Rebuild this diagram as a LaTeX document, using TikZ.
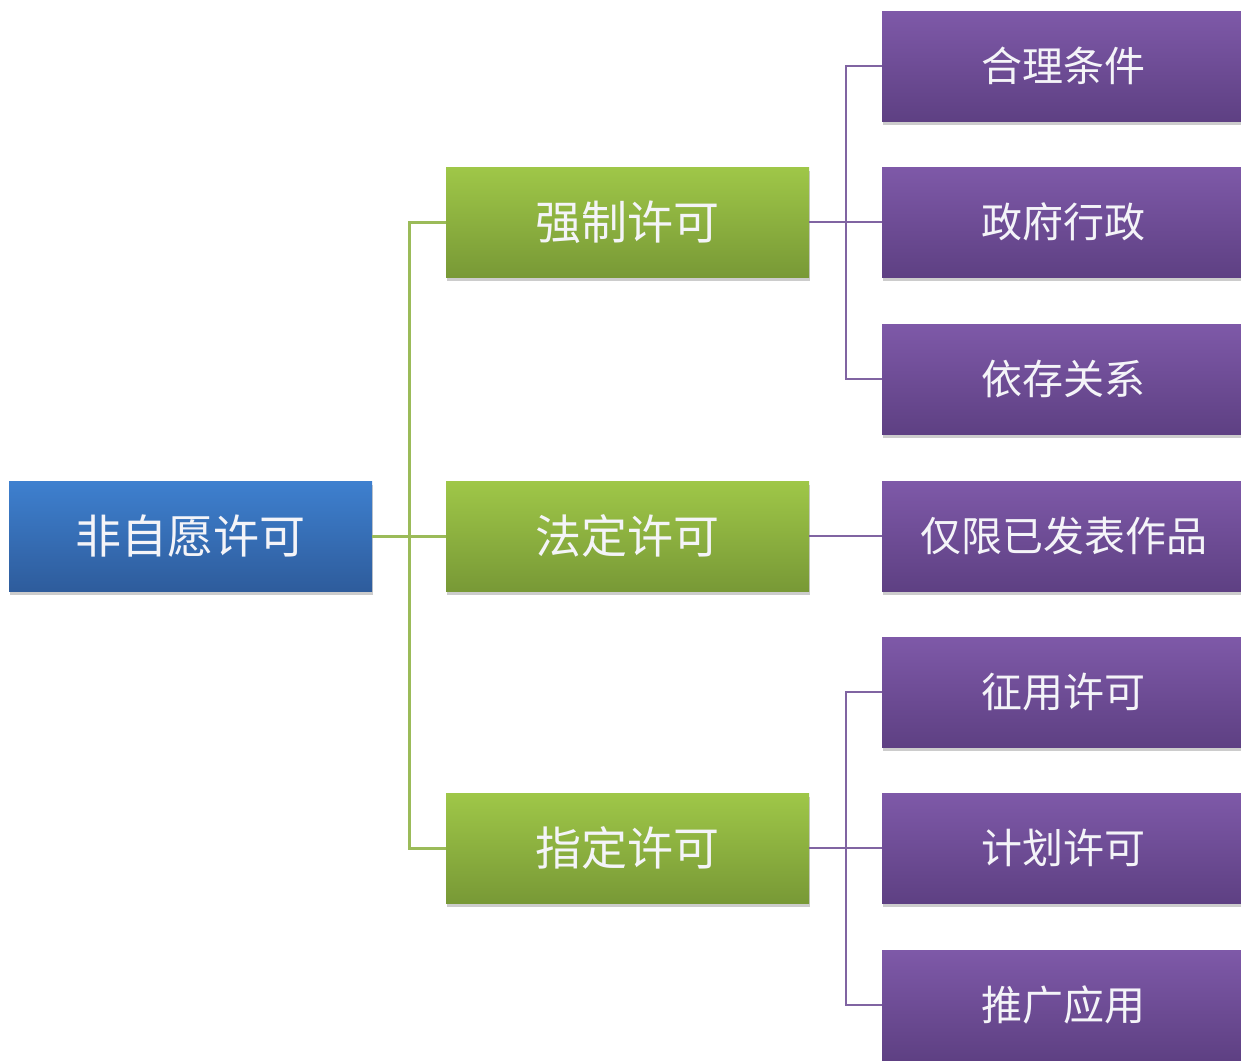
\documentclass[tikz,border=0pt]{standalone}
\usepackage{fontspec}
\newfontfamily\cjk{Noto Sans CJK SC}
\usetikzlibrary{shadows}
\definecolor{bluetop}{HTML}{3E80CF}
\definecolor{bluebot}{HTML}{2E5C9C}
\definecolor{greentop}{HTML}{9FC748}
\definecolor{greenbot}{HTML}{789936}
\definecolor{purptop}{HTML}{7E59A8}
\definecolor{purpbot}{HTML}{5E4083}
\definecolor{gline}{HTML}{9BBB59}
\definecolor{pline}{HTML}{8064A2}
\definecolor{boxtext}{HTML}{F4F4F8}
\tikzset{
  box/.style={rectangle, minimum width=181.5pt, minimum height=55pt, inner sep=0pt,
    text=boxtext, drop shadow={shadow xshift=0.6pt, shadow yshift=-1.8pt, opacity=0.2, fill=black}},
  rootbox/.style={box, top color=bluetop, bottom color=bluebot, font=\cjk\fontsize{23}{27}\selectfont},
  midbox/.style={box, top color=greentop, bottom color=greenbot, font=\cjk\fontsize{23}{27}\selectfont},
  leafbox/.style={box, top color=purptop, bottom color=purpbot, font=\cjk\fontsize{20.5}{25}\selectfont},
  glink/.style={draw=gline, line width=1.5pt},
  plink/.style={draw=pline, line width=1.4pt},
}
\begin{document}
\begin{tikzpicture}[x=0.5pt,y=-0.5pt]
\useasboundingbox (0,0) rectangle (1241,1060);
\clip (0,0) rectangle (1241,1060);
\node[rootbox] (root) at (190.5,536) {非自愿许可};
\node[midbox] (g1) at (627.5,222) {强制许可};
\node[midbox] (g2) at (627.5,536) {法定许可};
\node[midbox] (g3) at (627.5,848) {指定许可};
\node[leafbox] (p1) at (1063.5,66) {合理条件};
\node[leafbox] (p2) at (1063.5,222) {政府行政};
\node[leafbox] (p3) at (1063.5,379) {依存关系};
\node[leafbox] (p4) at (1063.5,536) {仅限已发表作品};
\node[leafbox] (p5) at (1063.5,692) {征用许可};
\node[leafbox] (p6) at (1063.5,848) {计划许可};
\node[leafbox] (p7) at (1063.5,1005) {推广应用};
\coordinate (gbus) at (409,536);
\coordinate (pbus1) at (846,222);
\coordinate (pbus3) at (846,848);
\draw[glink] (root.east) -- (g2.west);
\draw[glink] (gbus) |- (g1.west);
\draw[glink] (gbus) |- (g3.west);
\draw[plink] (g1.east) -- (p2.west);
\draw[plink] (pbus1) |- (p1.west);
\draw[plink] (pbus1) |- (p3.west);
\draw[plink] (g2.east) -- (p4.west);
\draw[plink] (g3.east) -- (p6.west);
\draw[plink] (pbus3) |- (p5.west);
\draw[plink] (pbus3) |- (p7.west);
\end{tikzpicture}
\end{document}
